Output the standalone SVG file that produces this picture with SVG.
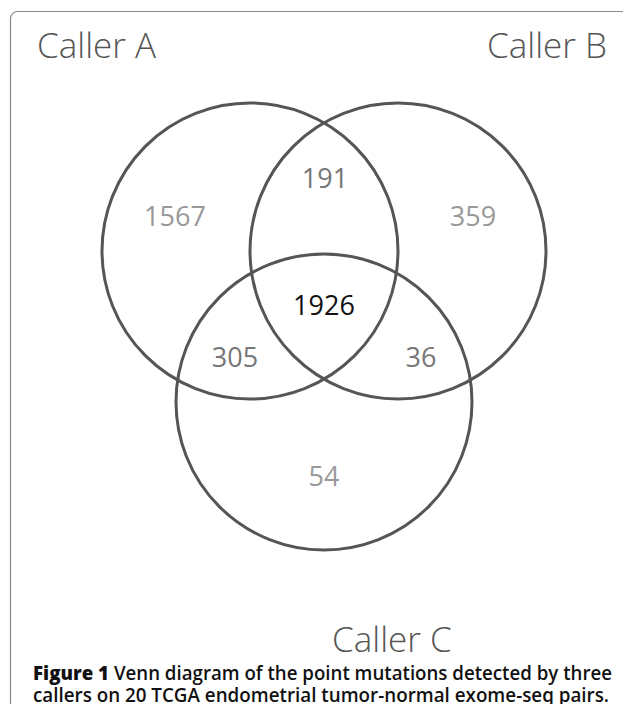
<svg xmlns="http://www.w3.org/2000/svg" width="623" height="704" viewBox="0 0 623 704">
  <style>
    .frame { fill: none; stroke: #8a8a8a; stroke-width: 1.2; }
    .circ { fill: none; stroke: #555555; stroke-width: 3; }
    .label { font-family: "Open Sans", "DejaVu Sans", sans-serif; font-weight: 300; font-size: 35px; fill: #555555; }
    .num { font-family: "Open Sans", "DejaVu Sans", sans-serif; font-size: 27px; text-anchor: middle; }
    .light { fill: #999999; }
    .mid { fill: #777777; }
    .dark { fill: #111111; }
    .cap { font-family: "Open Sans", "Liberation Sans", sans-serif; font-size: 19px; font-weight: 600; fill: #111111; }
  </style>
  <rect width="623" height="704" fill="#ffffff"/>
  <rect class="frame" x="10.5" y="11.5" width="640" height="720" rx="7"/>
  <g id="circles">
    <g id="circle-a"><circle class="circ" cx="250" cy="251" r="148"/></g>
    <g id="circle-b"><circle class="circ" cx="398" cy="251" r="148"/></g>
    <g id="circle-c"><circle class="circ" cx="324" cy="402" r="148"/></g>
  </g>
  <g id="labels">
    <text class="label" x="332" y="652">Caller C</text>
    <text class="label" x="37" y="58">Caller A</text>
    <text class="label" x="607" y="58" text-anchor="end">Caller B</text>
  </g>
  <g id="counts">
    <text class="num light" x="175" y="226">1567</text>
    <text class="num mid" x="325" y="188">191</text>
    <text class="num light" x="473" y="226">359</text>
    <text class="num dark" x="324" y="315">1926</text>
    <text class="num mid" x="235" y="367">305</text>
    <text class="num mid" x="421" y="367">36</text>
    <text class="num light" x="324" y="486">54</text>
  </g>
  <g id="caption">
    <text class="cap" x="33" y="680" textLength="579" lengthAdjust="spacingAndGlyphs"><tspan font-weight="800">Figure 1</tspan> Venn diagram of the point mutations detected by three</text>
    <text class="cap" x="33" y="702" textLength="576" lengthAdjust="spacingAndGlyphs">callers on 20 TCGA endometrial tumor-normal exome-seq pairs.</text>
  </g>
</svg>
